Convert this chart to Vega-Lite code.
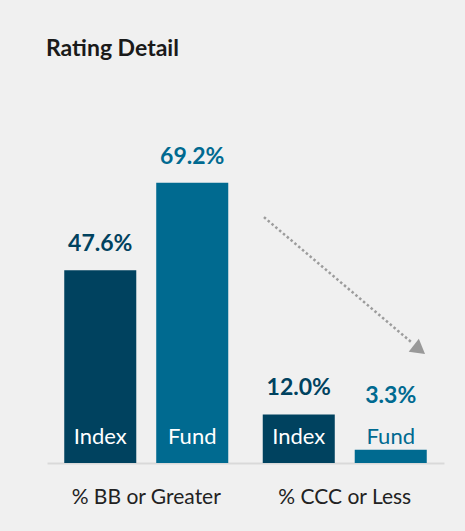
{
  "$schema": "https://vega.github.io/schema/vega-lite/v6.json",
  "width": 397,
  "height": 324,
  "autosize": "none",
  "padding": {"left": 47, "top": 139, "right": 21, "bottom": 68},
  "background": "#f0f0f0",
  "config": {"view": {"stroke": null}, "font": "Lato"},
  "title": {"text": "Rating Detail", "anchor": "start", "font": "Lato", "fontSize": 23, "fontWeight": "bold", "color": "#1a1a1a", "offset": 78, "dx": -1},
  "layer": [
    {
      "data": {"values": [
        {"group": "% BB or Greater", "series": "Index", "value": 47.6, "label": "47.6%"},
        {"group": "% BB or Greater", "series": "Fund", "value": 69.2, "label": "69.2%"},
        {"group": "% CCC or Less", "series": "Index", "value": 12.0, "label": "12.0%"},
        {"group": "% CCC or Less", "series": "Fund", "value": 3.3, "label": "3.3%"}
      ]},
      "encoding": {
        "x": {"field": "group", "type": "nominal", "sort": null,
          "scale": {"paddingInner": 0, "paddingOuter": 0},
          "axis": {"title": null, "labelAngle": 0, "domainColor": "#d9d9d9", "domainWidth": 2, "ticks": false, "tickSize": 0, "labelFont": "Lato", "labelFontSize": 21, "labelColor": "#222222", "labelBaseline": "alphabetic", "labelPadding": 40}},
        "xOffset": {"field": "series", "type": "nominal", "scale": {"domain": ["Index", "Fund"], "paddingInner": 0.217, "paddingOuter": 0.1875}}
      },
      "layer": [
        {
          "mark": {"type": "bar"},
          "encoding": {
            "y": {"field": "value", "type": "quantitative", "scale": {"domain": [0, 80]}, "axis": null},
            "color": {"field": "series", "type": "nominal", "scale": {"domain": ["Index", "Fund"], "range": ["#00425f", "#006a90"]}, "legend": null}
          }
        },
        {
          "transform": [{"filter": "datum.value >= 5"}],
          "mark": {"type": "text", "baseline": "alphabetic", "dy": -19, "fontSize": 23, "fontWeight": "bold"},
          "encoding": {
            "y": {"field": "value", "type": "quantitative"},
            "text": {"field": "label"},
            "color": {"field": "series", "type": "nominal", "legend": null}
          }
        },
        {
          "transform": [{"filter": "datum.value < 5"}],
          "mark": {"type": "text", "baseline": "alphabetic", "dy": -40, "fontSize": 23, "fontWeight": "bold"},
          "encoding": {
            "y": {"datum": 5, "type": "quantitative"},
            "text": {"field": "label"},
            "color": {"field": "series", "type": "nominal", "legend": null}
          }
        },
        {
          "mark": {"type": "text", "baseline": "alphabetic", "dy": 1, "fontSize": 22},
          "encoding": {
            "y": {"datum": 5, "type": "quantitative"},
            "text": {"field": "series"},
            "color": {"condition": {"test": "datum.value < 5", "value": "#006a90"}, "value": "#ffffff"}
          }
        }
      ]
    },
    {
      "data": {"values": [{"from": 60.7, "to": 29.9, "head": 28.0}]},
      "layer": [
        {
          "mark": {"type": "rule", "color": "#9c9c9c", "strokeWidth": 2.5, "strokeDash": [2.5, 2.5]},
          "encoding": {
            "x": {"datum": "% CCC or Less", "type": "nominal", "bandPosition": 0.093},
            "x2": {"datum": "% CCC or Less", "bandPosition": 0.834},
            "y": {"field": "from", "type": "quantitative"},
            "y2": {"field": "to"}
          }
        },
        {
          "mark": {"type": "point", "shape": "triangle-up", "filled": true, "color": "#999999", "opacity": 1, "size": 272, "angle": 128},
          "encoding": {
            "x": {"datum": "% CCC or Less", "type": "nominal", "bandPosition": 0.876},
            "y": {"field": "head", "type": "quantitative"}
          }
        }
      ]
    }
  ]
}
